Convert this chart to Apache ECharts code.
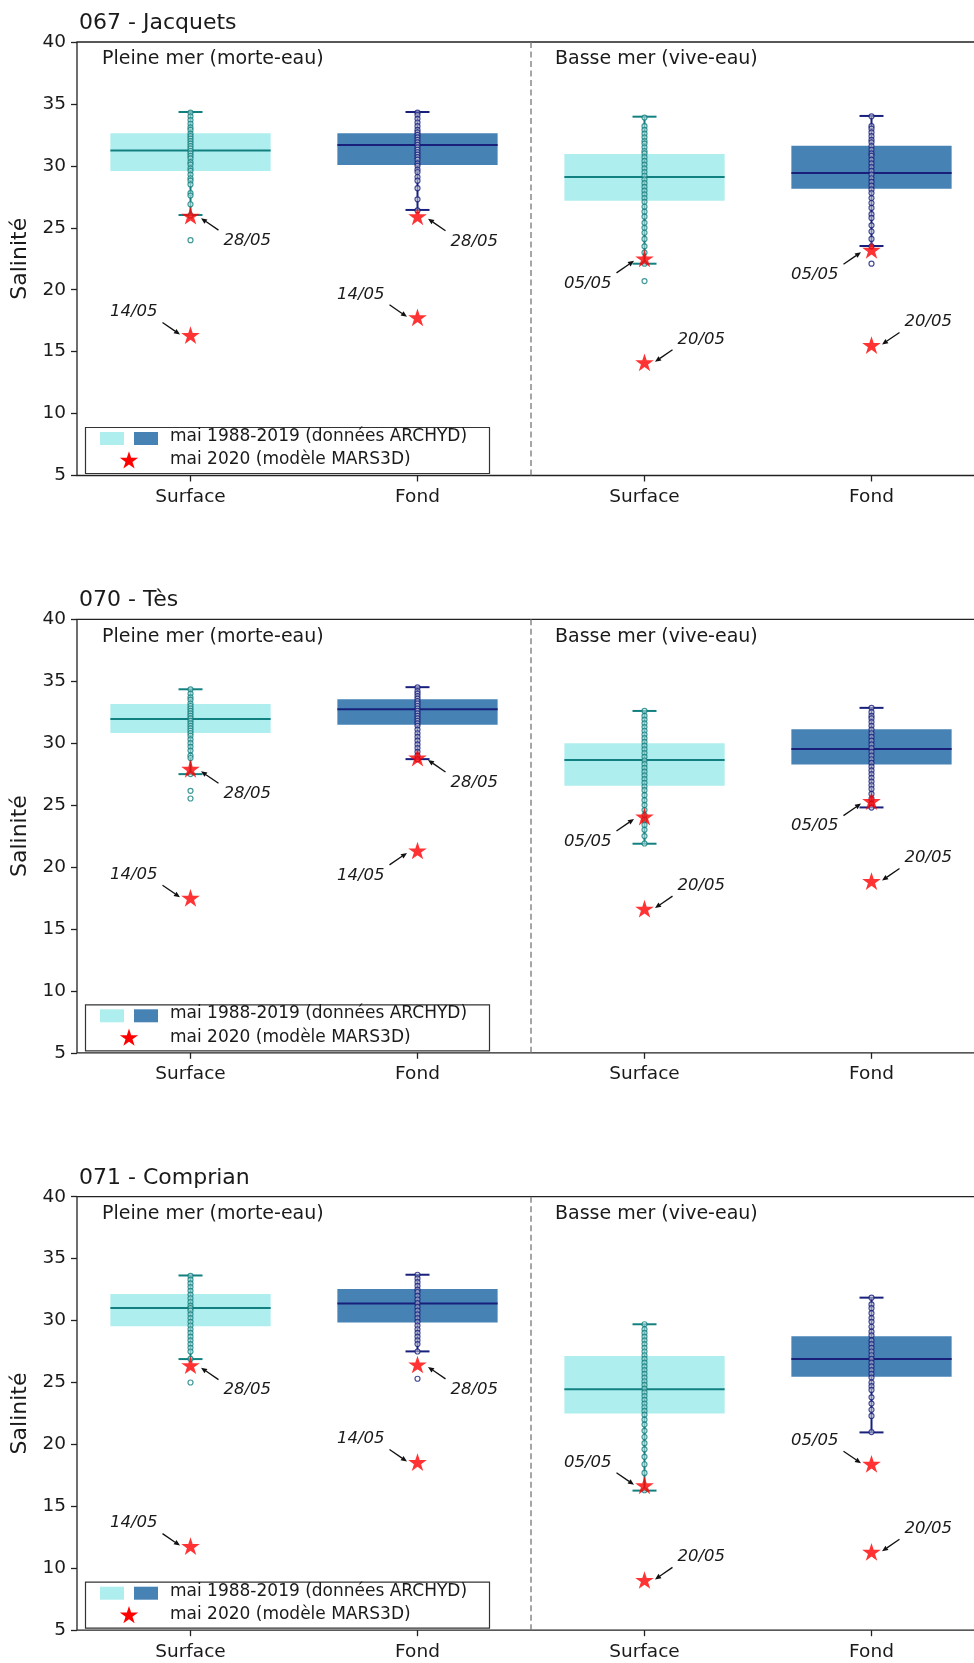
<!DOCTYPE html>
<html>
<head>
<meta charset="utf-8">
<script src="https://cdn.jsdelivr.net/npm/echarts@6/dist/echarts.min.js"></script>
<style>
  html, body { margin: 0; padding: 0; background: #ffffff; }
  #chart { width: 974px; height: 1663px; }
</style>
</head>
<body>
<div id="chart"></div>
<script>
// ---------------- DATA ----------------
const categories = ['Surface', 'Fond', 'Surface', 'Fond'];
const stations = ['067 - Jacquets', '070 - Tès', '071 - Comprian'];
const phases = ['Pleine mer (morte-eau)', 'Basse mer (vive-eau)'];
const legendLabels = ['mai 1988-2019 (données ARCHYD)', 'mai 2020 (modèle MARS3D)'];
const yTicks = [5, 10, 15, 20, 25, 30, 35, 40];

// box statistics per category: [lower whisker, Q1, median, Q3, upper whisker]
const box067 = [[26.03, 29.59, 31.23, 32.63, 34.35], [26.44, 30.07, 31.68, 32.63, 34.35],
                [22.10, 27.19, 29.10, 30.96, 33.97], [23.53, 28.16, 29.42, 31.63, 34.03]];
const box070 = [[27.50, 30.81, 31.96, 33.17, 34.35], [28.71, 31.48, 32.74, 33.55, 34.52],
                [21.88, 26.56, 28.65, 30.00, 32.60], [24.81, 28.27, 29.52, 31.13, 32.85]];
const box071 = [[26.89, 29.54, 31.02, 32.15, 33.64], [27.51, 29.84, 31.37, 32.55, 33.70],
                [16.27, 22.49, 24.45, 27.13, 29.70], [20.97, 25.47, 26.89, 28.74, 31.85]];

// individual observations (mai 1988-2019) per category
const obs067 = [
  [34.3, 34.0, 33.7, 33.4, 33.1, 32.9, 32.6, 32.4, 32.2, 32.0, 31.8, 31.6, 31.4, 31.2, 31.0, 30.8, 30.6, 30.3, 30.1, 29.8, 29.6, 29.3, 29.0, 28.8, 28.5, 27.8, 27.6, 26.9, 26.0, 24.0],
  [34.3, 34.1, 33.8, 33.5, 33.2, 32.9, 32.7, 32.5, 32.3, 32.1, 31.9, 31.7, 31.5, 31.3, 31.1, 30.9, 30.7, 30.5, 30.2, 30.0, 29.7, 29.5, 29.1, 28.8, 28.2, 27.3, 26.4],
  [33.9, 33.2, 32.9, 32.6, 32.3, 32.0, 31.8, 31.5, 31.2, 31.0, 30.7, 30.4, 30.1, 29.8, 29.5, 29.2, 28.9, 28.6, 28.3, 28.0, 27.7, 27.4, 27.1, 26.7, 26.3, 25.9, 25.4, 25.0, 24.6, 24.1, 23.5, 23.0, 22.1, 20.7],
  [34.0, 33.2, 33.0, 32.7, 32.4, 32.1, 31.9, 31.6, 31.3, 31.0, 30.8, 30.5, 30.2, 29.9, 29.6, 29.3, 29.0, 28.7, 28.4, 28.1, 27.8, 27.4, 27.0, 26.6, 26.1, 25.8, 25.2, 24.7, 24.1, 23.5, 22.1]
];
const obs070 = [
  [34.35, 34.0, 33.7, 33.5, 33.2, 33.0, 32.8, 32.6, 32.4, 32.2, 32.0, 31.8, 31.6, 31.4, 31.2, 31.0, 30.8, 30.6, 30.3, 30.0, 29.7, 29.4, 29.0, 28.8, 27.5, 26.15, 25.53],
  [34.5, 34.2, 34.0, 33.8, 33.6, 33.4, 33.2, 33.0, 32.8, 32.6, 32.4, 32.2, 32.0, 31.8, 31.6, 31.4, 31.1, 30.8, 30.5, 30.2, 29.9, 29.6, 29.3, 29.0, 28.7],
  [32.6, 32.2, 31.9, 31.6, 31.3, 31.0, 30.7, 30.4, 30.1, 29.8, 29.5, 29.2, 28.9, 28.6, 28.3, 28.0, 27.7, 27.4, 27.1, 26.8, 26.5, 26.2, 25.8, 25.4, 25.0, 24.6, 24.2, 23.8, 23.4, 23.0, 22.5, 21.9],
  [32.85, 32.5, 32.2, 32.0, 31.7, 31.4, 31.1, 30.8, 30.5, 30.2, 29.9, 29.6, 29.3, 29.0, 28.7, 28.4, 28.1, 27.8, 27.5, 27.2, 26.9, 26.6, 26.3, 25.9, 25.5, 25.1, 24.8]
];
const obs071 = [
  [33.6, 33.3, 33.0, 32.7, 32.4, 32.1, 31.8, 31.5, 31.2, 31.0, 30.8, 30.5, 30.2, 29.9, 29.6, 29.3, 29.0, 28.7, 28.4, 28.1, 27.8, 27.5, 26.9, 25.0],
  [33.7, 33.4, 33.1, 32.8, 32.5, 32.3, 32.0, 31.7, 31.4, 31.1, 30.8, 30.5, 30.2, 29.9, 29.6, 29.3, 29.0, 28.7, 28.4, 28.1, 27.5, 25.3],
  [29.7, 29.3, 29.0, 28.7, 28.4, 28.1, 27.8, 27.5, 27.2, 26.9, 26.6, 26.3, 26.0, 25.7, 25.4, 25.1, 24.8, 24.5, 24.2, 23.9, 23.6, 23.3, 23.0, 22.7, 22.4, 22.0, 21.6, 21.1, 20.6, 20.1, 19.6, 19.0, 18.4, 17.7, 16.3],
  [31.85, 31.3, 31.0, 30.6, 30.2, 29.9, 29.5, 29.1, 28.8, 28.4, 28.1, 27.8, 27.5, 27.2, 26.9, 26.6, 26.3, 26.0, 25.7, 25.4, 25.0, 24.7, 24.4, 23.8, 23.3, 22.8, 22.3, 21.0]
];

// mai 2020 model values per category (two dates each)
const modelDates = [['28/05', '14/05'], ['28/05', '14/05'], ['05/05', '20/05'], ['05/05', '20/05']];
const model067 = [[25.90, 16.26], [25.85, 17.69], [22.45, 14.06], [23.15, 15.46]];
const model070 = [[27.85, 17.44], [28.76, 21.26], [24.00, 16.56], [25.24, 18.79]];
const model071 = [[26.32, 11.71], [26.38, 18.50], [16.62, 8.98], [18.36, 11.25]];

const boxStats = [box067, box070, box071];
const observations = [obs067, obs070, obs071];
const modelValues = [model067, model070, model071];

// ---------------- LAYOUT / STYLE ----------------
const FONT = 'DejaVu Sans';
const TXT = '#1a1a1a';
const gridTops = [42, 619.3, 1196.7];
const GRID_LEFT = 77, GRID_W = 908, GRID_H = 433.5;
const boxFill = ['#AFEEEE', '#4682B4'];
const lineCol = ['#128080', '#18207c'];
// annotation placement (side of the star): [horizontal, vertical], per station / category / date
const labelSide = [
  [[[1, 1], [-1, -1]], [[1, 1], [-1, -1]], [[-1, 1], [1, -1]], [[-1, 1], [1, -1]]],
  [[[1, 1], [-1, -1]], [[1, 1], [-1, 1]], [[-1, 1], [1, -1]], [[-1, 1], [1, -1]]],
  [[[1, 1], [-1, -1]], [[1, 1], [-1, -1]], [[-1, -1], [1, -1]], [[-1, -1], [1, -1]]]
];

function starPoints(cx, cy, r) {
  const pts = [];
  for (let i = 0; i < 10; i++) {
    const a = (-90 + i * 36) * Math.PI / 180;
    const rr = i % 2 === 0 ? r : r * 0.381966;
    pts.push([cx + rr * Math.cos(a), cy + rr * Math.sin(a)]);
  }
  return pts;
}
const STAR_PATH = 'path://M' + starPoints(0, 0, 10).map(p => p[0].toFixed(3) + ',' + p[1].toFixed(3)).join(' L') + ' Z';

function renderSeparator(params, api) {
  const a = api.coord([1, 40]);
  const b = api.coord([2, 40]);
  const x = (a[0] + b[0]) / 2;
  const cs = params.coordSys;
  return {
    type: 'line',
    shape: { x1: x, y1: cs.y, x2: x, y2: cs.y + cs.height },
    style: { stroke: '#777777', lineWidth: 1.3, lineDash: [6, 3.5] }
  };
}

function renderBox(params, api) {
  const c = api.value(0);
  const lo = api.coord([c, api.value(1)]);
  const q1 = api.coord([c, api.value(2)]);
  const med = api.coord([c, api.value(3)]);
  const q3 = api.coord([c, api.value(4)]);
  const hi = api.coord([c, api.value(5)]);
  const band = api.size([1, 0])[0];
  const hb = band * 0.353;
  const cap = 12;
  const k = c % 2;
  const x = lo[0];
  const ls = { stroke: lineCol[k], lineWidth: 2 };
  return {
    type: 'group',
    children: [
      { type: 'rect', shape: { x: x - hb, y: q3[1], width: 2 * hb, height: q1[1] - q3[1] }, style: { fill: boxFill[k] } },
      { type: 'line', shape: { x1: x, y1: lo[1], x2: x, y2: hi[1] }, style: ls },
      { type: 'line', shape: { x1: x - cap, y1: lo[1], x2: x + cap, y2: lo[1] }, style: ls },
      { type: 'line', shape: { x1: x - cap, y1: hi[1], x2: x + cap, y2: hi[1] }, style: ls },
      { type: 'line', shape: { x1: x - hb, y1: med[1], x2: x + hb, y2: med[1] }, style: ls }
    ]
  };
}

function makeAnnotRender(k, labels, sides) {
  return function (params, api) {
    const i = params.dataIndex;
    const p = api.coord([api.value(0), api.value(1)]);
    const sx = sides[i][0], sy = sides[i][1];
    const x1 = p[0] + sx * 28, y1 = p[1] + sy * 13.5;
    const x2 = p[0] + sx * 10.5, y2 = p[1] + sy * 1.5;
    const dx = x2 - x1, dy = y2 - y1;
    const len = Math.sqrt(dx * dx + dy * dy);
    const ux = dx / len, uy = dy / len;
    const hl = 6, hw = 2.6;
    const bx = x2 - ux * hl, by = y2 - uy * hl;
    return {
      type: 'group',
      children: [
        { type: 'line', shape: { x1: x1, y1: y1, x2: bx, y2: by }, style: { stroke: '#111', lineWidth: 1.3 } },
        { type: 'polygon', shape: { points: [[x2, y2], [bx - uy * hw, by + ux * hw], [bx + uy * hw, by - ux * hw]] }, style: { fill: '#111' } },
        {
          type: 'text',
          x: p[0] + sx * 33, y: p[1] + sy * 24,
          style: {
            text: labels[i], fill: TXT,
            font: 'italic 16.5px "' + FONT + '"',
            fontStyle: 'italic', fontSize: 16.5, fontFamily: FONT,
            align: sx > 0 ? 'left' : 'right', verticalAlign: 'middle',
            textAlign: sx > 0 ? 'left' : 'right', textVerticalAlign: 'middle'
          }
        }
      ]
    };
  };
}

const grids = [], xAxes = [], yAxes = [], series = [], graphics = [];

for (let k = 0; k < 3; k++) {
  const top = gridTops[k];
  grids.push({ left: GRID_LEFT, top: top, width: GRID_W, height: GRID_H, show: true,
               outerBoundsMode: 'none', containLabel: false,
               borderColor: '#222', borderWidth: 1.3, backgroundColor: 'transparent' });
  xAxes.push({
    type: 'category', gridIndex: k, data: categories, boundaryGap: true,
    axisLine: { show: false },
    axisTick: { show: true, alignWithLabel: true, length: 6, lineStyle: { color: '#222', width: 1.3 } },
    axisLabel: { fontFamily: FONT, fontSize: 18.5, color: TXT, margin: 12, interval: 0 },
    splitLine: { show: false }
  });
  yAxes.push({
    type: 'value', gridIndex: k, min: yTicks[0], max: yTicks[yTicks.length - 1], interval: yTicks[1] - yTicks[0],
    axisLine: { show: false },
    axisTick: { show: true, length: 6, lineStyle: { color: '#222', width: 1.3 } },
    axisLabel: { fontFamily: FONT, fontSize: 18.5, color: TXT, margin: 11 },
    splitLine: { show: false },
    name: 'Salinité', nameLocation: 'middle', nameGap: 43, nameRotate: 90,
    nameTextStyle: { fontFamily: FONT, fontSize: 22, color: TXT }
  });

  // separator
  series.push({ type: 'custom', xAxisIndex: k, yAxisIndex: k, silent: true, z: 1,
                data: [[0, 40]], encode: { x: 0, y: 1 }, renderItem: renderSeparator });
  // boxes
  series.push({ type: 'custom', xAxisIndex: k, yAxisIndex: k, silent: true, z: 2,
                data: boxStats[k].map((b, c) => [c].concat(b)),
                encode: { x: 0, y: [1, 2, 3, 4, 5] }, renderItem: renderBox });
  // observations
  const dots = [];
  observations[k].forEach((vals, c) => vals.forEach(v => dots.push({
    value: [c, v],
    itemStyle: { color: 'rgba(255,255,255,0.55)', borderColor: lineCol[c % 2], borderWidth: 1.2 }
  })));
  series.push({ type: 'scatter', xAxisIndex: k, yAxisIndex: k, silent: true, z: 3,
                symbol: 'circle', symbolSize: 5, data: dots });
  // model stars
  const stars = [], labels = [], sides = [];
  modelValues[k].forEach((vals, c) => vals.forEach((v, d) => {
    stars.push([c, v]); labels.push(modelDates[c][d]); sides.push(labelSide[k][c][d]);
  }));
  series.push({ type: 'scatter', xAxisIndex: k, yAxisIndex: k, silent: true, z: 5,
                symbol: STAR_PATH, symbolSize: [18.6, 17.7], symbolOffset: [0, -0.9],
                itemStyle: { color: '#ff0000' }, data: stars });
  series.push({ type: 'custom', xAxisIndex: k, yAxisIndex: k, silent: true, z: 6,
                data: stars, encode: { x: 0, y: 1 }, renderItem: makeAnnotRender(k, labels, sides) });

  // station title
  graphics.push({ type: 'text', x: 79, y: top - 18.7, z: 10,
    style: { text: stations[k], fill: TXT, fontSize: 22, fontFamily: FONT,
             font: '22px "' + FONT + '"', verticalAlign: 'middle', textVerticalAlign: 'middle' } });
  // phase labels
  [102, 555].forEach((x, j) => graphics.push({ type: 'text', x: x, y: top + 17.3, z: 10,
    style: { text: phases[j], fill: TXT, fontSize: 19, fontFamily: FONT,
             font: '19px "' + FONT + '"', verticalAlign: 'middle', textVerticalAlign: 'middle' } }));
  // legend
  const ly = top + 385;
  graphics.push({ type: 'rect', z: 10, shape: { x: 85.5, y: ly + 0.5, width: 404, height: 46 },
                  style: { fill: '#ffffff', stroke: '#333333', lineWidth: 1.2 } });
  graphics.push({ type: 'rect', z: 11, shape: { x: 100, y: ly + 5, width: 24, height: 13 }, style: { fill: boxFill[0] } });
  graphics.push({ type: 'rect', z: 11, shape: { x: 134, y: ly + 5, width: 24, height: 13 }, style: { fill: boxFill[1] } });
  graphics.push({ type: 'polygon', z: 11, shape: { points: starPoints(129, ly + 33.8, 9.6) }, style: { fill: '#ff0000' } });
  legendLabels.forEach((t, j) => graphics.push({ type: 'text', x: 170, y: ly + 9.7 + j * 23.3, z: 11,
    style: { text: t, fill: TXT, fontSize: 17, fontFamily: FONT,
             font: '17px "' + FONT + '"', verticalAlign: 'middle', textVerticalAlign: 'middle' } }));
}

const chart = echarts.init(document.getElementById('chart'), null, { renderer: 'canvas', width: 974, height: 1663 });
chart.setOption({
  animation: false,
  backgroundColor: '#ffffff',
  textStyle: { fontFamily: FONT },
  grid: grids,
  xAxis: xAxes,
  yAxis: yAxes,
  series: series,
  graphic: { elements: graphics }
});
</script>
</body>
</html>
